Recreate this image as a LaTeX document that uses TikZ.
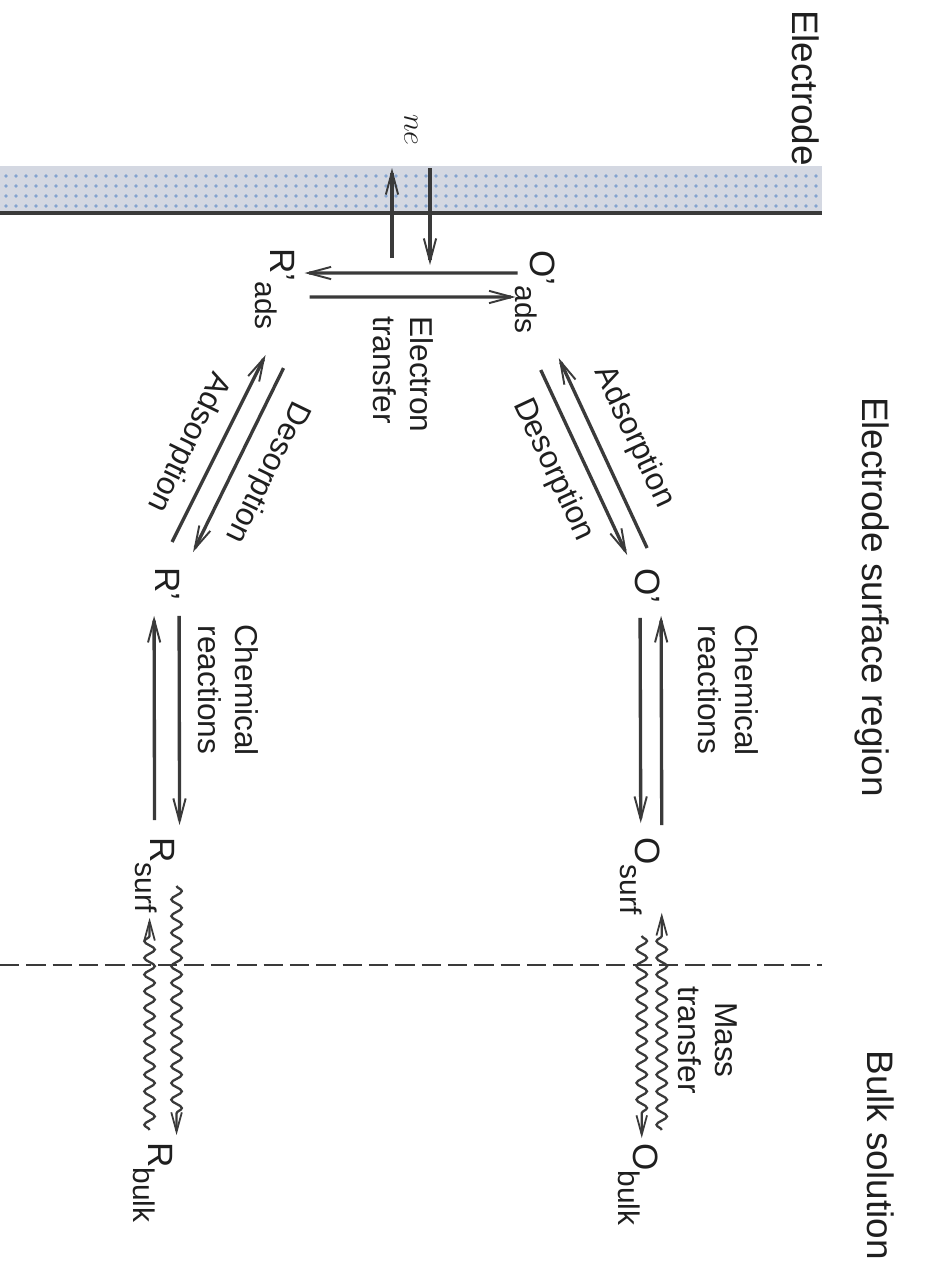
\documentclass[tikz,border=0pt]{standalone}
\usepackage{fontspec}
\setmainfont{Liberation Sans}
\usetikzlibrary{arrows.meta, calc, decorations.pathmorphing}
\definecolor{inkGray}{RGB}{58, 58, 58}
\definecolor{bandGray}{RGB}{212, 216, 226}
\definecolor{dotBlue}{RGB}{100, 140, 195}
\newcommand{\subsz}{\fontsize{17}{17}\selectfont}
\newcommand{\spec}[2]{#1\raisebox{-0.42em}{\subsz #2}}

\begin{document}
\begin{tikzpicture}[x=0.02cm, y=0.02cm, rotate=-90, transform shape,
    every node/.style={text=black!88, inner sep=0pt},
    region/.style={font=\fontsize{21}{25}\selectfont},
    proc/.style={font=\fontsize{18}{21}\selectfont, align=center},
    species/.style={font=\fontsize{20}{24}\selectfont, anchor=base west},
    rxn/.style={inkGray, line width=1.9pt, -{Straight Barb[length=13pt, width=7pt, line width=1.1pt]}},
    wavy/.style={inkGray, line width=1.3pt, decorate,
      decoration={snake, amplitude=3pt, segment length=9.5pt, post length=10pt},
      -{Straight Barb[length=11pt, width=6pt, line width=1pt]}}]
  \useasboundingbox (0,0) rectangle (1281,929);

  % electrode
  \fill[bandGray] (166,0) rectangle (213,822);
  \foreach \u in {176,186,...,206}
    \foreach \v in {6,16,...,816}
      \fill[dotBlue!80] (\u,\v) circle (1.8);
  \draw[inkGray, line width=1.9pt] (213,0) -- (213,822);

  % regions
  \node[region] (electrodeLbl) at (88,806) {Electrode};
  \node[region] (surfaceLbl) at (597,872) {Electrode surface region};
  \node[region] (bulkLbl) at (1155,881) {Bulk solution};
  \draw[inkGray, line width=1.4pt, dash pattern=on 11pt off 4pt] (965,0) -- (965,822);

  % species
  \node[species] (Oads) at (250,530) {\spec{O\textquoteright}{ads}};
  \node[species] (Rads) at (248,270) {\spec{R\textquoteright}{ads}};
  \node[species] (Oprime) at (568,635) {O\textquoteright};
  \node[species] (Rprime) at (567,155) {R\textquoteright};
  \node[species] (Osurf) at (837,635) {\spec{O}{surf}};
  \node[species] (Rsurf) at (837,150) {\spec{R}{surf}};
  \node[species] (Obulk) at (1143,633) {\spec{O}{bulk}};
  \node[species] (Rbulk) at (1142,148) {\spec{R}{bulk}};

  % electrons
  \coordinate (eIn) at (168,430);
  \coordinate (eOut) at (168,392);
  \coordinate (etIn) at (265,430);
  \coordinate (etOut) at (258,392);
  \draw[rxn] (eIn) -- (etIn);
  \draw[rxn] (etOut) -- (eOut);
  \node[font=\fontsize{16}{16}\selectfont] (neLbl) at (130,411) {$ne$};

  % electron transfer
  \draw[rxn] ($(Oads.south)+(-19,3)$) -- ($(Rads.north)+(-16,10)$);
  \draw[rxn] ($(Rads.north)+(8,15)$) -- ($(Oads.south)+(5,1)$);
  \node[proc, align=left, anchor=west] (etLbl) at (316,403) {Electron\\transfer};

  % adsorption / desorption
  \draw[rxn] ($(Oprime.west)+(-20,0)$) -- ($(Oads.east)+(24,24)$);
  \draw[rxn] ($(Oads.east)+(36,6)$) -- ($(Oprime.west)+(-13,-20)$);
  \node[proc, rotate=25] (OadsLbl) at (437,634) {Adsorption};
  \node[proc, rotate=25] (OdesLbl) at (470,553) {Desorption};
  \draw[rxn] ($(Rads.east)+(38,9)$) -- ($(Rprime.west)+(-15,26)$);
  \draw[rxn] ($(Rprime.west)+(-25,5)$) -- ($(Rads.east)+(25,-9)$);
  \node[proc, rotate=-26] (RdesLbl) at (472,267) {Desorption};
  \node[proc, rotate=-26] (RadsLbl) at (442,188) {Adsorption};

  % chemical reactions
  \draw[rxn] ($(Oprime.east)+(14,-7)$) -- ($(Osurf.west)+(-14,1)$);
  \draw[rxn] ($(Osurf.west)+(-12,22)$) -- ($(Oprime.east)+(12,14)$);
  \node[proc] (OchemLbl) at (690,728) {Chemical\\reactions};
  \draw[rxn] ($(Rprime.east)+(15,12)$) -- ($(Rsurf.west)+(-12,25)$);
  \draw[rxn] ($(Rsurf.west)+(-17,0)$) -- ($(Rprime.east)+(15,-13)$);
  \node[proc] (RchemLbl) at (690,228) {Chemical\\reactions};

  % mass transfer
  \draw[wavy] ($(Osurf.east)+(21,2)$) -- ($(Obulk.west)+(-5,4)$);
  \draw[wavy] ($(Obulk.west)+(-13,24)$) -- ($(Osurf.east)+(-2,22)$);
  \node[proc] (massLbl) at (1040,708) {Mass\\transfer};
  \draw[wavy] ($(Rsurf.east)+(-27,22)$) -- ($(Rbulk.west)+(-7,24)$);
  \draw[wavy] ($(Rbulk.west)+(-12,-3)$) -- ($(Rsurf.east)+(5,-5)$);
\end{tikzpicture}
\end{document}
